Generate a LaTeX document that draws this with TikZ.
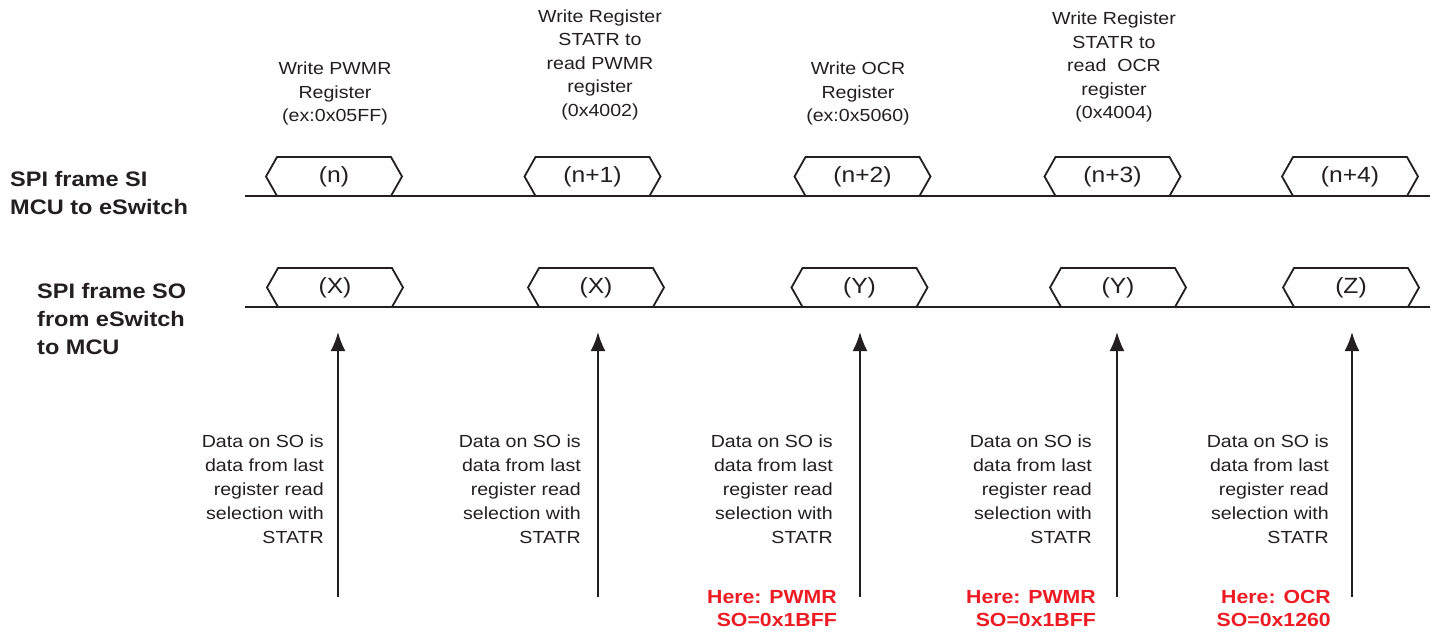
\documentclass[tikz,border=0pt]{standalone}
\usepackage{fontspec}
\setmainfont{Liberation Sans}[FakeStretch=1.12]
\usetikzlibrary{arrows.meta,shapes.symbols}
\definecolor{inkgray}{RGB}{35,31,32}
\definecolor{notered}{RGB}{237,28,36}
\tikzset{
  spiframe/.style={draw=inkgray, line width=1.8pt, signal, signal to=west and east,
    signal pointer angle=121, minimum width=136pt, minimum height=39pt, inner sep=0pt,
    font=\fontsize{22}{26}\selectfont, text=inkgray},
  caption/.style={align=center, inner sep=0pt, text=inkgray,
    font=\fontsize{17.5}{23.5}\selectfont},
  note/.style={align=right, anchor=east, inner sep=0pt, text=inkgray,
    font=\fontsize{17.5}{24}\selectfont},
  hint/.style={align=right, anchor=east, inner sep=0pt, text=notered,
    font=\fontsize{19}{23}\selectfont\bfseries},
  rowlabel/.style={align=left, anchor=west, inner sep=0pt, text=inkgray,
    font=\fontsize{21}{28}\selectfont\bfseries},
  trace/.style={draw=inkgray, line width=1.8pt},
  soarrow/.style={draw=inkgray, line width=2pt, -{Latex[length=19pt,width=15pt]}}
}
\begin{document}
\begin{tikzpicture}[x=1pt,y=-1pt]
  \useasboundingbox (0,0) rectangle (1434,632);

  % Row labels
  \node [rowlabel] (silabel) at (10,192.5) {SPI frame SI\\MCU to eSwitch};
  \node [rowlabel] (solabel) at (37,318.5) {SPI frame SO\\from eSwitch\\to MCU};

  % Drawing line SI
  \coordinate (siL) at (245,196);
  \coordinate (siR) at (1430,196);
  \draw [trace] (siL) -- (siR);

  % Drawing line SO
  \coordinate (soL) at (245,307);
  \coordinate (soR) at (1430,307);
  \draw [trace] (soL) -- (soR);

  % Frames on SI
  \node [spiframe] (si0) at (334,176.5) {(n)};
  \node [spiframe] (si1) at (592.5,176.5) {(n+1)};
  \node [spiframe] (si2) at (862.5,176.5) {(n+2)};
  \node [spiframe] (si3) at (1112.5,176.5) {(n+3)};
  \node [spiframe] (si4) at (1350,176.5) {(n+4)};

  % Frames on SO
  \node [spiframe] (so0) at (335,287.5) {(X)};
  \node [spiframe] (so1) at (596,287.5) {(X)};
  \node [spiframe] (so2) at (859.5,287.5) {(Y)};
  \node [spiframe] (so3) at (1118,287.5) {(Y)};
  \node [spiframe] (so4) at (1351,287.5) {(Z)};

  % Captions above the frames
  \node [caption] (cap0) at (335,93.5) {Write PWMR\\Register\\(ex:0x05FF)};
  \node [caption] (cap1) at (600,64.5) {Write Register\\STATR to\\read PWMR\\register\\(0x4002)};
  \node [caption] (cap2) at (858,93.5) {Write OCR\\Register\\(ex:0x5060)};
  \node [caption] (cap3) at (1114,67) {Write Register\\STATR to\\read\ \ OCR\\register\\(0x4004)};

  % Arrows up to SO
  \coordinate (a0b) at (338,597);  \coordinate (a0t) at (338,332);
  \coordinate (a1b) at (598,597);  \coordinate (a1t) at (598,332);
  \coordinate (a2b) at (860,597);  \coordinate (a2t) at (860,332);
  \coordinate (a3b) at (1117,597); \coordinate (a3t) at (1117,332);
  \coordinate (a4b) at (1352,597); \coordinate (a4t) at (1352,332);
  \draw [soarrow] (a0b) -- (a0t);
  \draw [soarrow] (a1b) -- (a1t);
  \draw [soarrow] (a2b) -- (a2t);
  \draw [soarrow] (a3b) -- (a3t);
  \draw [soarrow] (a4b) -- (a4t);

  % Notes beside the arrows
  \node [note] (n0) at (324,489) {Data on SO is\\data from last\\register read\\selection with\\STATR};
  \node [note] (n1) at (581,489) {Data on SO is\\data from last\\register read\\selection with\\STATR};
  \node [note] (n2) at (833,489) {Data on SO is\\data from last\\register read\\selection with\\STATR};
  \node [note] (n3) at (1092,489) {Data on SO is\\data from last\\register read\\selection with\\STATR};
  \node [note] (n4) at (1329,489) {Data on SO is\\data from last\\register read\\selection with\\STATR};

  % Red hints
  \node [hint] (h2) at (837,608.5) {Here: PWMR\\SO=0x1BFF};
  \node [hint] (h3) at (1096,608.5) {Here: PWMR\\SO=0x1BFF};
  \node [hint] (h4) at (1331,608.5) {Here: OCR\\SO=0x1260};
\end{tikzpicture}
\end{document}
